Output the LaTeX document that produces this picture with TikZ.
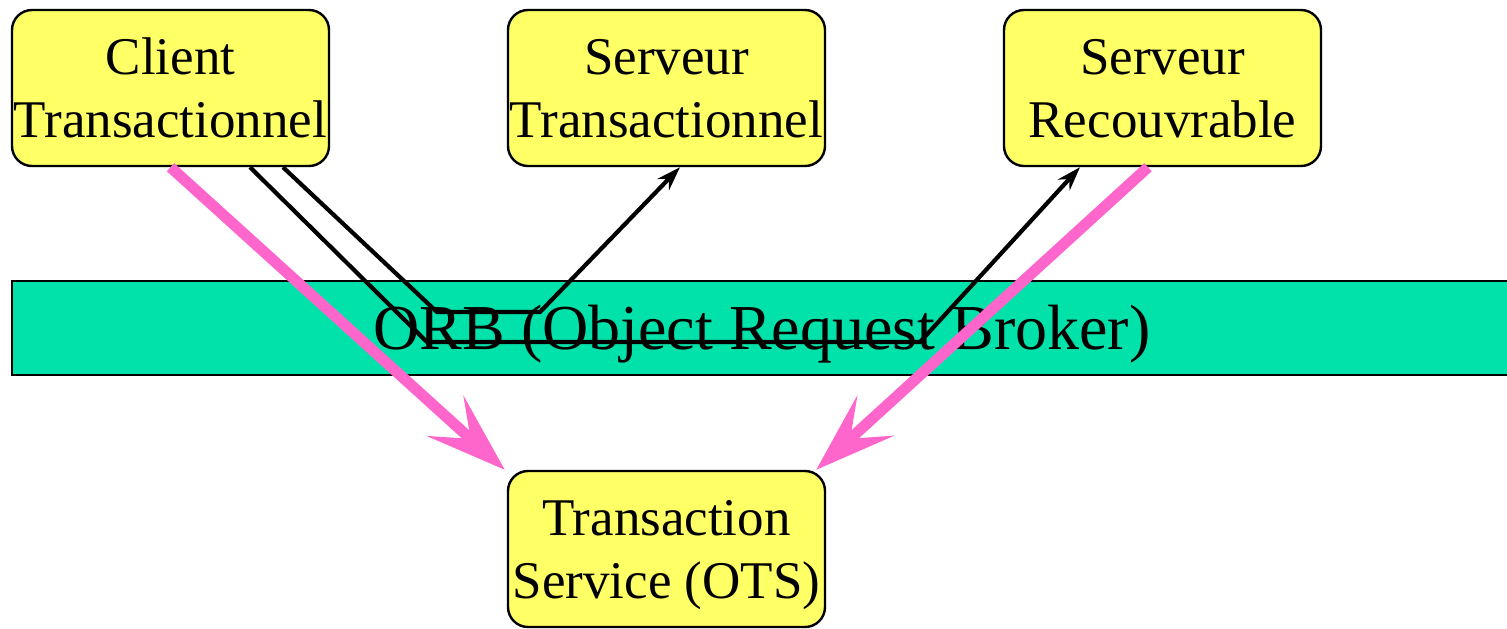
\documentclass[tikz,border=0pt]{standalone}
\usepackage{fontspec}
\setmainfont{Liberation Serif}
\usetikzlibrary{arrows.meta}

\definecolor{boxyellow}{RGB}{255,255,102}
\definecolor{orbgreen}{RGB}{0,226,170}
\definecolor{otspink}{RGB}{255,102,204}

\tikzset{
  objbox/.style={draw, line width=1.2pt, rounded corners=10pt, fill=boxyellow,
    minimum width=158.5pt, minimum height=78pt, inner sep=0pt, align=center,
    text depth=0pt, font=\fontsize{26.5}{31.5}\selectfont},
  bus/.style={draw, line width=1.2pt, fill=orbgreen, minimum width=750pt,
    minimum height=47pt, inner sep=0pt, text height=21pt, text depth=0pt,
    font=\fontsize{32}{36}\selectfont},
  call/.style={line width=2.1pt, -{Stealth[length=12pt,width=8pt,inset=4pt]}},
  otslink/.style={line width=5.5pt, draw=otspink, color=otspink,
    -{Stealth[length=40pt,width=27pt,inset=17pt]}}
}

\begin{document}
\begin{tikzpicture}[x=0.5pt, y=-0.5pt]
  \useasboundingbox (0,0) rectangle (1507,628);

  % the ORB band
  \node[bus] (orb) at (762,328) {ORB (Object Request Broker)};

  % objects
  \node[objbox] (client) at (170.5,88) {Client\\Transactionnel};
  \node[objbox] (srvtx) at (666.5,88) {Serveur\\Transactionnel};
  \node[objbox] (rec) at (1162.5,88) {Serveur\\Recouvrable};
  \node[objbox] (ots) at (666.5,549) {Transaction\\Service (OTS)};

  % requests through the ORB
  \draw[call] (client.south -| 250,0) -- (427,342) -- (920,342) -- (rec.south -| 1080,0);
  \draw[call] (client.south -| 283,0) -- (437,312) -- (540,312) -- (srvtx.south -| 680,0);

  % registration with the OTS
  \draw[otslink] (client.south) -- ([xshift=-1pt]ots.north west);
  \draw[otslink] (rec.south -| 1148,0) -- ([xshift=-5pt]ots.north east);
\end{tikzpicture}
\end{document}
